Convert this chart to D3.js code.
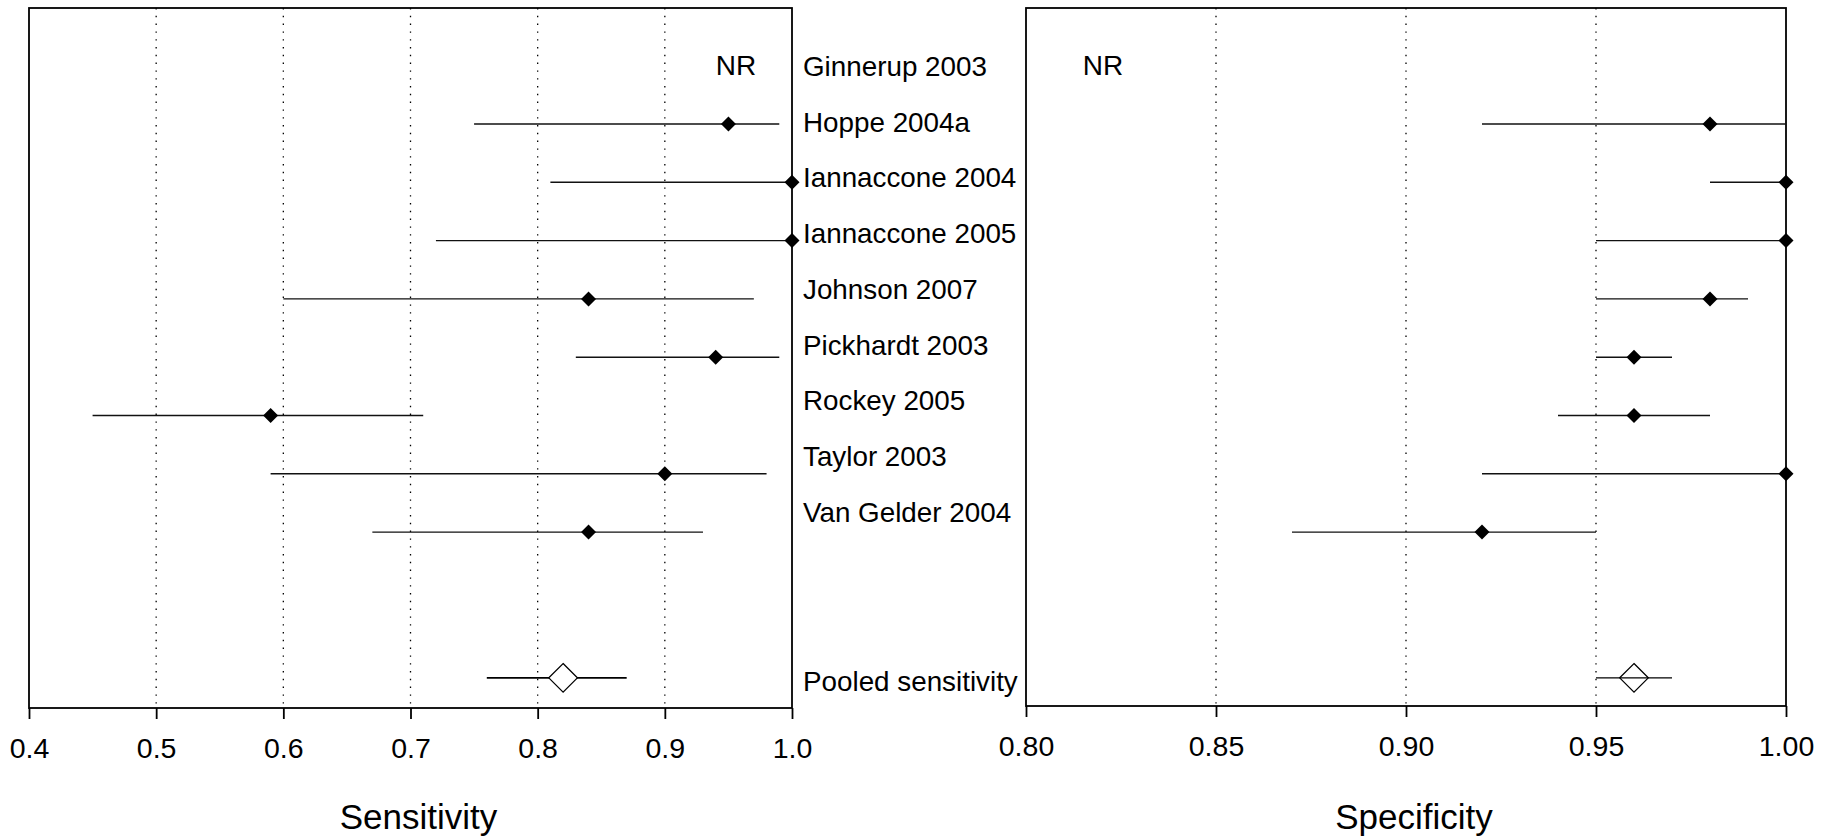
<!DOCTYPE html>
<html>
<head>
<meta charset="utf-8">
<script src="https://cdn.jsdelivr.net/npm/d3@7"></script>
<style>
  html, body { margin: 0; padding: 0; background: #fff; }
  svg { display: block; font-family: "Liberation Sans", Arial, Helvetica, sans-serif; }
</style>
</head>
<body>
<svg id="chart" width="1829" height="836"></svg>
<script>
// ---- data ----
const studies = ["Ginnerup 2003", "Hoppe 2004a", "Iannaccone 2004", "Iannaccone 2005",
  "Johnson 2007", "Pickhardt 2003", "Rockey 2005", "Taylor 2003", "Van Gelder 2004"];
const sensEst = [null, 0.95, 1.00, 1.00, 0.84, 0.94, 0.59, 0.90, 0.84];
const sensLo  = [null, 0.75, 0.81, 0.72, 0.60, 0.83, 0.45, 0.59, 0.67];
const sensHi  = [null, 0.99, 1.00, 1.00, 0.97, 0.99, 0.71, 0.98, 0.93];
const specEst = [null, 0.98, 1.00, 1.00, 0.98, 0.96, 0.96, 1.00, 0.92];
const specLo  = [null, 0.92, 0.98, 0.95, 0.95, 0.95, 0.94, 0.92, 0.87];
const specHi  = [null, 1.00, 1.00, 1.00, 0.99, 0.97, 0.98, 1.00, 0.95];
const pooledLabel = "Pooled sensitivity";
const pooledSens = { est: 0.82, lo: 0.76, hi: 0.87 };
const pooledSpec = { est: 0.96, lo: 0.95, hi: 0.97 };
const missingText = "NR";
const sensTicks = [0.4, 0.5, 0.6, 0.7, 0.8, 0.9, 1.0];
const sensTickLabels = ["0.4", "0.5", "0.6", "0.7", "0.8", "0.9", "1.0"];
const sensGrid = [0.5, 0.6, 0.7, 0.8, 0.9];
const specTicks = [0.80, 0.85, 0.90, 0.95, 1.00];
const specTickLabels = ["0.80", "0.85", "0.90", "0.95", "1.00"];
const specGrid = [0.85, 0.90, 0.95];
const sensTitle = "Sensitivity";
const specTitle = "Specificity";

// ---- layout ----
const svg = d3.select("#chart");
const topY = 8;
const rowY = d3.scaleLinear().domain([0, 11]).range([65.7, 707]);
const labelY = d3.scaleLinear().domain([0, 8]).range([76, 521.6]);
const pooledRow = 10.5;

function panel(opts) {
  const { x0, x1, bottom, domain, ticks, tickLabels, grid, est, lo, hi, pooled,
          title, nrX, pooledFill, pooledWidth } = opts;
  const x = d3.scaleLinear().domain(domain).range([x0, x1]);
  const g = svg.append("g");

  // gridlines
  g.selectAll("line.grid").data(grid).join("line")
    .attr("class", "grid")
    .attr("x1", d => x(d)).attr("x2", d => x(d))
    .attr("y1", topY).attr("y2", bottom)
    .attr("stroke", "#000").attr("stroke-width", 1.3)
    .attr("stroke-dasharray", "1.4,6.4");

  // frame
  g.append("rect")
    .attr("x", x0).attr("y", topY)
    .attr("width", x1 - x0).attr("height", bottom - topY)
    .attr("fill", "none").attr("stroke", "#000").attr("stroke-width", 1.8);

  // axis
  const axis = d3.axisBottom(x).tickValues(ticks)
    .tickFormat((d, i) => tickLabels[i]).tickSize(11).tickSizeOuter(0);
  const ag = g.append("g").attr("transform", `translate(0,${bottom})`).call(axis);
  ag.select(".domain").remove();
  ag.selectAll(".tick line").attr("stroke", "#000").attr("stroke-width", 1.8);
  ag.selectAll(".tick text")
    .attr("y", 50).attr("dy", 0)
    .attr("fill", "#000")
    .style("font-size", "28.5px")
    .style("font-family", "\"Liberation Sans\", Arial, sans-serif");

  // axis title
  g.append("text")
    .attr("x", (x0 + x1) / 2 + 8).attr("y", 828.5)
    .attr("text-anchor", "middle")
    .style("font-size", "35px")
    .text(title);

  // study rows
  const rows = est.map((e, i) => ({ i, e, lo: lo[i], hi: hi[i] })).filter(d => d.e !== null);
  g.selectAll("line.ci").data(rows).join("line")
    .attr("class", "ci")
    .attr("x1", d => x(d.lo)).attr("x2", d => x(d.hi))
    .attr("y1", d => rowY(d.i)).attr("y2", d => rowY(d.i))
    .attr("stroke", "#111").attr("stroke-width", 1.4);
  const r = 7.5;
  g.selectAll("path.pt").data(rows).join("path")
    .attr("class", "pt")
    .attr("d", d => {
      const cx = x(d.e), cy = rowY(d.i);
      return `M${cx},${cy - r}L${cx + r},${cy}L${cx},${cy + r}L${cx - r},${cy}Z`;
    })
    .attr("fill", "#000");

  // NR for missing rows
  est.forEach((e, i) => {
    if (e === null) {
      g.append("text").attr("x", nrX).attr("y", labelY(i) - 1)
        .attr("text-anchor", "middle").style("font-size", "28px").text(missingText);
    }
  });

  // pooled
  const py = rowY(pooledRow);
  g.append("line")
    .attr("x1", x(pooled.lo)).attr("x2", x(pooled.hi))
    .attr("y1", py).attr("y2", py)
    .attr("stroke", "#000").attr("stroke-width", pooledWidth);
  const R = 14.3;
  const pcx = x(pooled.est);
  g.append("path")
    .attr("d", `M${pcx},${py - R}L${pcx + R},${py}L${pcx},${py + R}L${pcx - R},${py}Z`)
    .attr("fill", pooledFill).attr("stroke", "#000").attr("stroke-width", 1.3);
}

panel({ x0: 29, x1: 792, bottom: 708, domain: [0.4, 1.0], ticks: sensTicks,
  tickLabels: sensTickLabels, grid: sensGrid, est: sensEst, lo: sensLo, hi: sensHi,
  pooled: pooledSens, title: sensTitle, nrX: 736, pooledFill: "#fff", pooledWidth: 1.8 });

panel({ x0: 1026, x1: 1786, bottom: 706, domain: [0.8, 1.0], ticks: specTicks,
  tickLabels: specTickLabels, grid: specGrid, est: specEst, lo: specLo, hi: specHi,
  pooled: pooledSpec, title: specTitle, nrX: 1103, pooledFill: "none", pooledWidth: 1.4 });

// study labels
svg.append("g").selectAll("text").data(studies).join("text")
  .attr("x", 803).attr("y", (d, i) => labelY(i))
  .style("font-size", "27.8px")
  .text(d => d);
svg.append("text").attr("x", 803).attr("y", 691)
  .style("font-size", "27.8px").text(pooledLabel);
</script>
</body>
</html>
